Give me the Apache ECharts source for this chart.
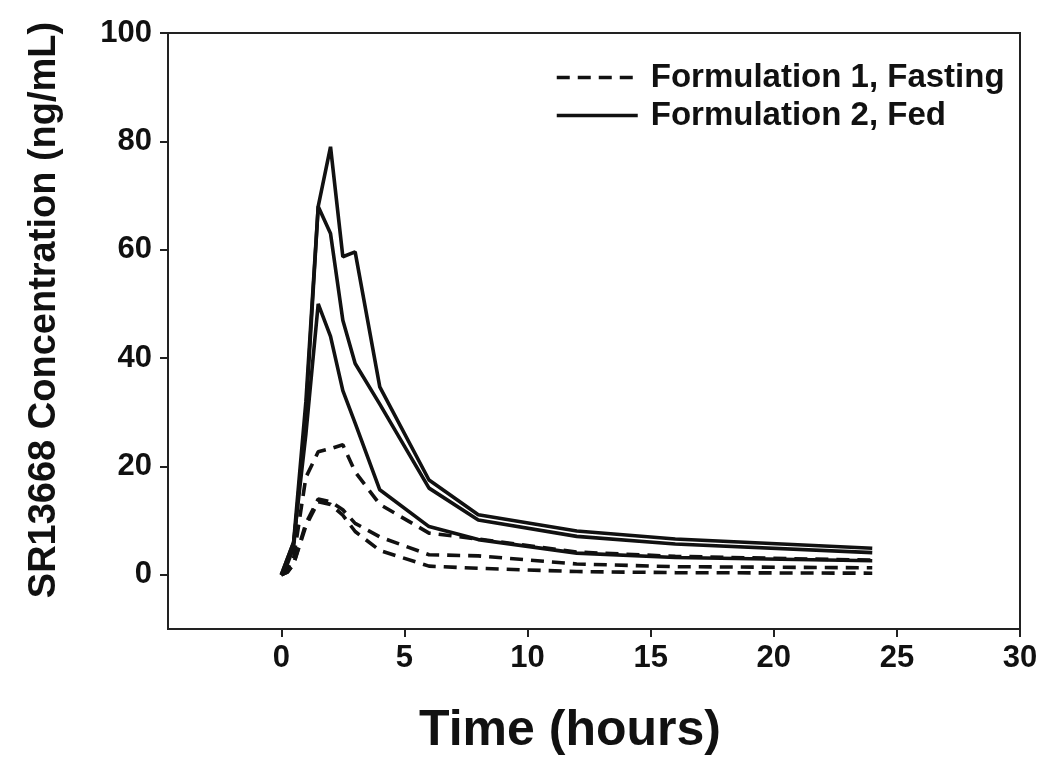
<!DOCTYPE html>
<html>
<head>
<meta charset="utf-8">
<script src="https://cdn.jsdelivr.net/npm/echarts@6/dist/echarts.min.js"></script>
<style>
  html, body { margin: 0; padding: 0; background: #fff; }
  #chart { width: 1050px; height: 781px; }
</style>
</head>
<body>
<div id="chart"></div>
<script>
// sampling times (hours)
const times = [0, 0.25, 0.5, 1, 1.5, 2, 2.5, 3, 4, 6, 8, 12, 16, 24];

// Formulation 2, Fed (solid)
const fedA = [0, 3, 6, 32, 68, 79, 58.7, 59.6, 34.7, 17.5, 11.1, 8.1, 6.6, 4.9];
const fedB = [0, 2, 5, 30, 68, 63, 47, 39, 31.5, 16, 10.1, 7.1, 5.7, 4.1];
const fedC = [0, 3, 6, 26, 50, 44, 34, 28, 15.7, 8.9, 6.5, 4.0, 3.2, 2.6];

// Formulation 1, Fasting (dashed)
const fastA = [0, 1, 3, 18, 22.7, 23.3, 24, 19, 13, 7.7, 6.6, 4.2, 3.4, 2.7];
const fastB = [0, 0.5, 2, 9.5, 14, 13.5, 12, 9.5, 7, 3.7, 3.5, 2.0, 1.5, 1.3];
const fastC = [0, 0.5, 2, 9, 13.5, 13, 11, 8, 4.5, 1.6, 1.2, 0.6, 0.4, 0.3];

const xTicks = [0, 5, 10, 15, 20, 25, 30];
const yTicks = [0, 20, 40, 60, 80, 100];

const fastName = 'Formulation 1, Fasting';
const fedName = 'Formulation 2, Fed';

const font = '"Liberation Sans", Arial, sans-serif';

function pairs(vals) {
  return times.map((t, i) => [t, vals[i]]);
}

function mkLine(name, vals, dashed) {
  return {
    name: name,
    type: 'line',
    data: pairs(vals),
    symbol: 'none',
    silent: true,
    lineStyle: {
      color: '#111',
      width: 3.6,
      type: dashed ? [13, 8] : 'solid'
    },
    itemStyle: { color: '#111' }
  };
}

const chart = echarts.init(document.getElementById('chart'));
chart.setOption({
  animation: false,
  backgroundColor: '#fff',
  grid: {
    left: 168, right: 30, top: 33, bottom: 152,
    show: true, borderColor: '#222', borderWidth: 2, backgroundColor: 'transparent'
  },
  legend: {
    data: [fastName, fedName],
    orient: 'vertical',
    left: 550, top: 56,
    itemWidth: 81, itemHeight: 20, itemGap: 5,
    itemStyle: { opacity: 0 },
    lineStyle: { width: 3.5 },
    textStyle: { fontFamily: font, fontWeight: 'bold', fontSize: 33, color: '#111', padding: [0, 0, 0, 8] }
  },
  xAxis: {
    type: 'value',
    min: -4.6, max: 30,
    name: 'Time (hours)',
    nameLocation: 'middle',
    nameGap: 77,
    nameTextStyle: { fontFamily: font, fontWeight: 'bold', fontSize: 50, color: '#111', padding: [0, 48, 0, 0] },
    axisLine: { show: true, onZero: false, lineStyle: { color: '#222', width: 2 } },
    axisTick: { show: true, inside: false, length: 8, customValues: xTicks, lineStyle: { color: '#222', width: 2 } },
    axisLabel: { customValues: xTicks, margin: 14, fontFamily: font, fontWeight: 'bold', fontSize: 31, color: '#111' },
    splitLine: { show: false }
  },
  yAxis: {
    type: 'value',
    min: -10, max: 100,
    name: 'SR13668 Concentration (ng/mL)',
    nameLocation: 'middle',
    nameRotate: 90,
    nameGap: 104,
    nameTextStyle: { fontFamily: font, fontWeight: 'bold', fontSize: 38, color: '#111', padding: [0, 0, 0, 42] },
    axisLine: { show: true, onZero: false, lineStyle: { color: '#222', width: 2 } },
    axisTick: { show: true, inside: false, length: 8, customValues: yTicks, lineStyle: { color: '#222', width: 2 } },
    axisLabel: { customValues: yTicks, margin: 16, fontFamily: font, fontWeight: 'bold', fontSize: 31, color: '#111' },
    splitLine: { show: false }
  },
  series: [
    mkLine(fastName, fastA, true),
    mkLine(fastName, fastB, true),
    mkLine(fastName, fastC, true),
    mkLine(fedName, fedA, false),
    mkLine(fedName, fedB, false),
    mkLine(fedName, fedC, false)
  ]
});
</script>
</body>
</html>
